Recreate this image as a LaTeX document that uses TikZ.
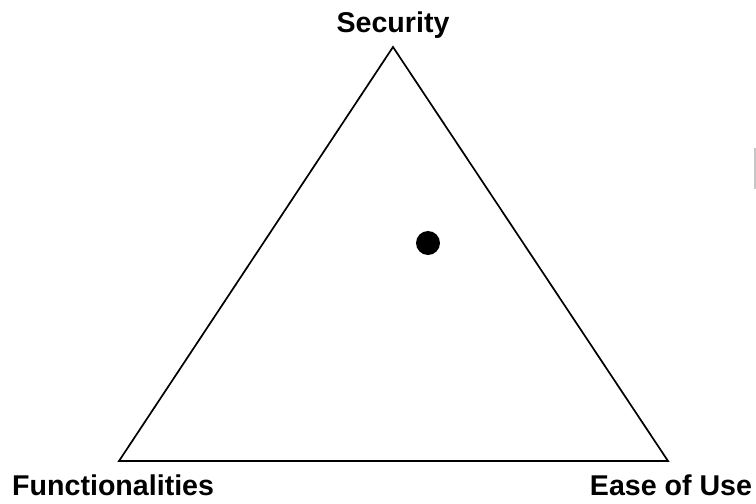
\documentclass[tikz,border=0pt]{standalone}
\usepackage{fontspec}
\setmainfont{Liberation Sans}
\usetikzlibrary{positioning}

\begin{document}
\begin{tikzpicture}[x=1pt,y=-1pt]
    \tikzset{
        CornerLabel/.style={font=\fontsize{28.6}{32}\selectfont\bfseries, inner sep=0pt},
        SideStyle/.style={line width=1.7pt, line join=miter}
    }
    \useasboundingbox (0,0) rectangle (756,504);
    \coordinate (S) at (393,47);
    \coordinate (F) at (119,461);
    \coordinate (E) at (668,461);
    \draw[SideStyle] (S) -- (F) -- (E) -- cycle;
    % labels at the corners
    \node[CornerLabel, anchor=base] (sec) at (393,32) {Security};
    \node[CornerLabel, anchor=base west] (fun) at (12,495) {Functionalities};
    \node[CornerLabel, anchor=base] (ease) at (671,495) {Ease of Use};
    % the point inside
    \node[circle, fill=black, minimum size=24pt, inner sep=0pt] (pt) at (428,243) {};
    % cut-off mark at the right edge
    \draw[line width=1.5pt, color=black!22] (755,148) -- (755,189);
\end{tikzpicture}
\end{document}
